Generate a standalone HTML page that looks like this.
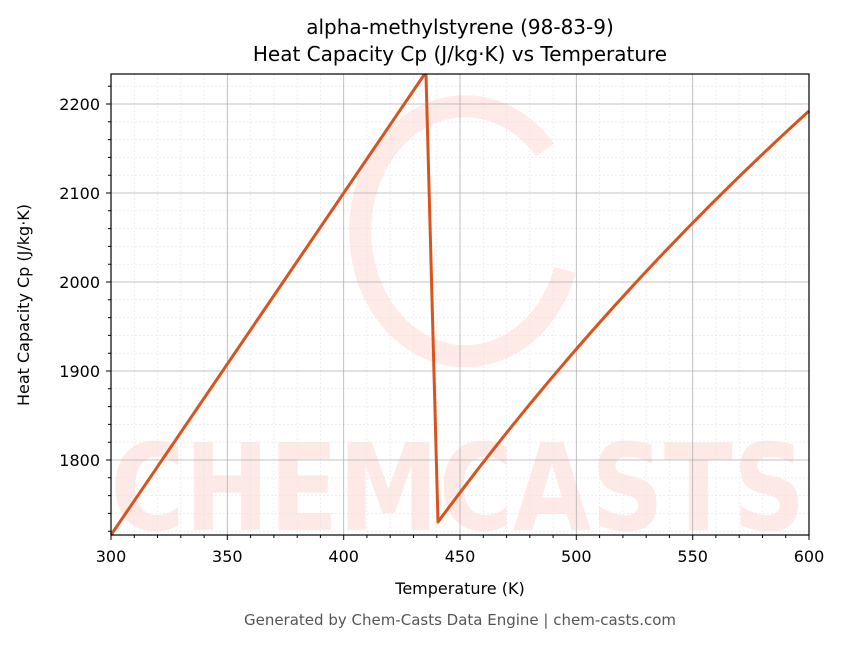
<!DOCTYPE html>
<html><head><meta charset="utf-8"><style>
body{margin:0;background:#fff;}
svg text{font-family:"DejaVu Sans","Liberation Sans",sans-serif;}
</style></head><body>
<svg width="843" height="644" xmlns="http://www.w3.org/2000/svg">
<rect width="843" height="644" fill="#fff"/>
<!-- watermark -->
<g opacity="0.75">
<path d="M545 150 A105 125 0 1 0 565 270" fill="none" stroke="#fde3df" stroke-width="22"/>
<text x="458" y="530" text-anchor="middle" font-size="120" font-weight="bold" fill="#fde3df" textLength="695" lengthAdjust="spacingAndGlyphs">CHEMCASTS</text>
</g>
<!-- minor grid -->
<g stroke="#e4e4e4" stroke-width="0.6" stroke-dasharray="2,2">
<path d="M134.3 74V535M157.5 74V535M180.8 74V535M204.1 74V535M250.6 74V535M273.9 74V535M297.2 74V535M320.4 74V535M366.9 74V535M390.2 74V535M413.5 74V535M436.8 74V535M483.3 74V535M506.6 74V535M529.8 74V535M553.1 74V535M599.6 74V535M622.9 74V535M646.2 74V535M669.4 74V535M715.9 74V535M739.2 74V535M762.5 74V535M785.7 74V535"/>
<path d="M111 86.2H809M111 121.8H809M111 139.6H809M111 157.4H809M111 175.2H809M111 210.8H809M111 228.6H809M111 246.4H809M111 264.2H809M111 299.8H809M111 317.6H809M111 335.4H809M111 353.2H809M111 388.8H809M111 406.6H809M111 424.4H809M111 442.2H809M111 477.8H809M111 495.6H809M111 513.4H809M111 531.2H809"/>
</g>
<!-- major grid -->
<g stroke="#b0b0b0" stroke-width="0.8">
<path d="M227.3 74V535M343.7 74V535M460 74V535M576.3 74V535M692.7 74V535"/>
<path d="M111 104H809M111 193H809M111 282H809M111 371H809M111 460H809"/>
</g>
<!-- data -->
<path fill="none" stroke="#d9531e" stroke-width="3" stroke-linejoin="round" d="M111 535 L424 75 L426 75 L438 522 Q604 297 809 111"/>
<!-- axes -->
<rect x="111" y="74" width="698" height="461" fill="none" stroke="#000" stroke-width="1.2"/>
<g stroke="#000" stroke-width="1">
<path d="M111 535v5M227.3 535v5M343.7 535v5M460 535v5M576.3 535v5M692.7 535v5M809 535v5"/>
<path d="M111 104h-5M111 193h-5M111 282h-5M111 371h-5M111 460h-5"/>
<path d="M134.3 535v3M157.5 535v3M180.8 535v3M204.1 535v3M250.6 535v3M273.9 535v3M297.2 535v3M320.4 535v3M366.9 535v3M390.2 535v3M413.5 535v3M436.8 535v3M483.3 535v3M506.6 535v3M529.8 535v3M553.1 535v3M599.6 535v3M622.9 535v3M646.2 535v3M669.4 535v3M715.9 535v3M739.2 535v3M762.5 535v3M785.7 535v3"/>
<path d="M111 86.2h-3M111 121.8h-3M111 139.6h-3M111 157.4h-3M111 175.2h-3M111 210.8h-3M111 228.6h-3M111 246.4h-3M111 264.2h-3M111 299.8h-3M111 317.6h-3M111 335.4h-3M111 353.2h-3M111 388.8h-3M111 406.6h-3M111 424.4h-3M111 442.2h-3M111 477.8h-3M111 495.6h-3M111 513.4h-3M111 531.2h-3"/>
</g>
<g font-size="16" fill="#000" text-anchor="middle">
<text x="111" y="562">300</text><text x="227.3" y="562">350</text><text x="343.7" y="562">400</text><text x="460" y="562">450</text><text x="576.3" y="562">500</text><text x="692.7" y="562">550</text><text x="809" y="562">600</text>
</g>
<g font-size="16" fill="#000" text-anchor="end">
<text x="100" y="110">2200</text><text x="100" y="199">2100</text><text x="100" y="288">2000</text><text x="100" y="377">1900</text><text x="100" y="466">1800</text>
</g>
<text x="460" y="594" font-size="16" text-anchor="middle">Temperature (K)</text>
<text transform="translate(29,305) rotate(-90)" font-size="16" text-anchor="middle">Heat Capacity Cp (J/kg·K)</text>
<text x="460" y="34" font-size="20" text-anchor="middle">alpha-methylstyrene (98-83-9)</text>
<text x="460" y="61" font-size="20" text-anchor="middle">Heat Capacity Cp (J/kg·K) vs Temperature</text>
<text x="460" y="625" font-size="15" fill="#555" text-anchor="middle">Generated by Chem-Casts Data Engine | chem-casts.com</text>
</svg>
</body></html>
